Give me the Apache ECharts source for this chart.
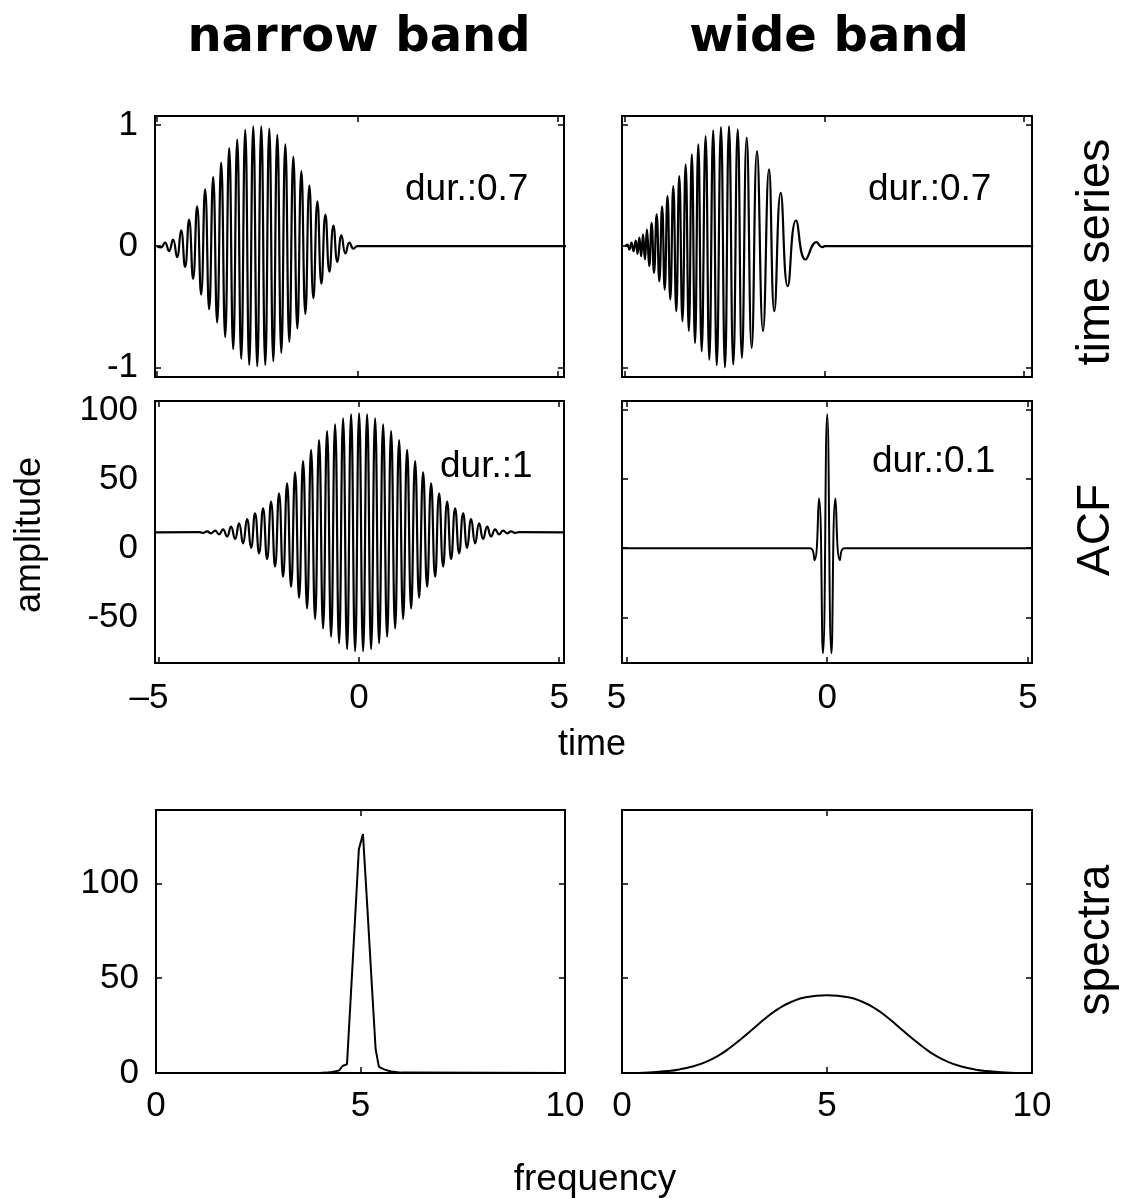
<!DOCTYPE html>
<html>
<head>
<meta charset="utf-8">
<script src="https://cdn.jsdelivr.net/npm/echarts@6/dist/echarts.min.js"></script>
<style>html,body{margin:0;padding:0;background:#fff}#c{width:1124px;height:1198px}</style>
</head>
<body>
<div id="c"></div>
<script>
// ---------------- texts ----------------
const columnTitles = ['narrow band', 'wide band'];
const rowLabels = ['time series', 'ACF', 'spectra'];
const durLabels = ['dur.:0.7', 'dur.:0.7', 'dur.:1', 'dur.:0.1'];
const yAxisTitle = 'amplitude';
const timeAxisTitle = 'time';
const freqAxisTitle = 'frequency';

// ---------------- tick values ----------------
const timeTicks = [0, 5, 10];
const unitTicks = [-1, 0, 1];
const lagTicks = [-5, 0, 5];
const acfTicks = [-50, 0, 50, 100];
const freqTicks = [0, 5, 10];
const specTicks = [0, 50, 100];

// ---------------- narrow band time series (extremes) ----------------
const nbTime = [0,0.1,0.2,0.3,0.4,0.5,0.6,0.7,0.8,0.9,1.0,1.1,1.2,1.3,1.4,1.5,1.6,1.7,1.8,1.9,2.0,2.1,2.2,2.3,2.4,2.5,2.6,2.7,2.8,2.9,3.0,3.1,3.2,3.3,3.4,3.5,3.6,3.7,3.8,3.9,4.0,4.1,4.2,4.3,4.4,4.5,4.6,4.7,4.8,4.9,5.0,10.23];
const nbSignal = [0,-0.01,0.03,-0.04,0.055,-0.09,0.13,-0.17,0.22,-0.27,0.33,-0.40,0.47,-0.52,0.57,-0.63,0.69,-0.75,0.81,-0.85,0.88,-0.93,0.96,-0.98,0.99,-0.99,0.99,-0.98,0.97,-0.95,0.92,-0.88,0.84,-0.79,0.74,-0.68,0.62,-0.56,0.50,-0.43,0.37,-0.31,0.26,-0.21,0.17,-0.13,0.09,-0.06,0.03,-0.02,0,0];

// ---------------- wide band time series (chirp extremes) ----------------
const wbTime = [0,0.058,0.108,0.163,0.213,0.27,0.315,0.36,0.405,0.452,0.50,0.55,0.607,0.667,0.727,0.794,0.86,0.93,0.995,1.065,1.135,1.21,1.285,1.36,1.44,1.52,1.6,1.675,1.755,1.837,1.922,2.02,2.113,2.21,2.30,2.405,2.506,2.607,2.714,2.825,2.93,3.05,3.175,3.308,3.459,3.609,3.742,3.902,4.078,4.286,4.524,4.8,4.937,5.01,10.23];
const wbSignal = [0,0.014,-0.027,0.03,-0.041,0.047,-0.063,0.07,-0.083,0.097,-0.11,0.138,-0.165,0.193,-0.22,0.262,-0.289,0.33,-0.358,0.413,-0.44,0.496,-0.537,0.579,-0.62,0.675,-0.70,0.758,-0.80,0.84,-0.868,0.91,-0.937,0.956,-0.983,0.983,-1.0,0.99,-0.978,0.964,-0.922,0.896,-0.84,0.785,-0.70,0.634,-0.537,0.44,-0.33,0.212,-0.11,0.033,-0.008,0,0];

// ---------------- narrow band ACF ----------------
const nbLag = [-5.12,-4.0,-3.9,-3.8,-3.7,-3.6,-3.5,-3.4,-3.3,-3.2,-3.1,-3.0,-2.9,-2.8,-2.7,-2.6,-2.5,-2.4,-2.3,-2.2,-2.1,-2.0,-1.9,-1.8,-1.7,-1.6,-1.5,-1.4,-1.3,-1.2,-1.1,-1.0,-0.9,-0.8,-0.7,-0.6,-0.5,-0.4,-0.3,-0.2,-0.1,0,0.1,0.2,0.3,0.4,0.5,0.6,0.7,0.8,0.9,1.0,1.1,1.2,1.3,1.4,1.5,1.6,1.7,1.8,1.9,2.0,2.1,2.2,2.3,2.4,2.5,2.6,2.7,2.8,2.9,3.0,3.1,3.2,3.3,3.4,3.5,3.6,3.7,3.8,3.9,4.0,5.12];
const nbAcf = [11.5,11.7,11.1,12.2,10.8,12.7,10.1,13.7,8.4,15.6,6.7,18.0,3.5,21.1,0.3,25.2,-3.7,28.9,-7.8,33.7,-13.3,39.7,-20.6,47.0,-27.8,54.9,-35.8,63.1,-43.5,71.1,-51.2,78.3,-58.0,84.8,-64.0,89.6,-68.8,94.0,-72.9,96.9,-74.4,97.6,-74.4,96.9,-72.9,94.0,-68.8,89.6,-64.0,84.8,-58.0,78.3,-51.2,71.1,-43.5,63.1,-35.8,54.9,-27.8,47.0,-20.6,39.7,-13.3,33.7,-7.8,28.9,-3.7,25.2,0.3,21.1,3.5,18.0,6.7,15.6,8.4,13.7,10.1,12.7,10.8,12.2,11.1,11.7,11.5];

// ---------------- wide band ACF ----------------
const wbLag = [-5.12,-0.42,-0.315,-0.205,-0.105,0,0.105,0.205,0.315,0.42,5.12];
const wbAcf = [0,0,-8.5,36,-76,97,-76,36,-8.5,0,0];

// ---------------- spectra ----------------
const nbFreq = [0,4.0,4.15,4.3,4.4,4.48,4.56,4.67,4.8,4.96,5.06,5.16,5.27,5.37,5.45,5.59,5.75,6.0,10];
const nbSpec = [0,0,0.2,0.5,0.9,1.4,3.7,4.6,55,118,126,90,49,12.5,3.2,1.8,0.8,0.2,0];
const wbFreq = [0,0.4,0.75,1.1,1.4,1.72,2.05,2.37,2.61,2.94,3.18,3.5,3.83,4.15,4.48,5.0,5.52,5.85,6.17,6.5,6.82,7.06,7.39,7.63,7.95,8.28,8.6,8.9,9.25,9.6,10];
const wbSpec = [0,0.05,0.4,1.0,1.9,3.4,5.9,9.4,12.9,18.6,23.0,28.9,34.1,37.7,40.0,41.0,40.0,37.7,34.1,28.9,23.0,18.6,12.9,9.4,5.9,3.4,1.9,1.0,0.4,0.05,0];

// ---------------- chart ----------------
const FONT = "'Liberation Sans', Arial, Helvetica, sans-serif";
const pairs = (xs, ys) => xs.map((x, i) => [x, ys[i]]);

const grids = [
  {left:155, top:116, width:409, height:261},
  {left:622, top:116, width:410, height:261},
  {left:155, top:401, width:409, height:262},
  {left:622, top:401, width:410, height:262},
  {left:156, top:810, width:409, height:263},
  {left:622, top:810, width:410, height:263}
].map(g => Object.assign({show:true, borderColor:'#000', borderWidth:2, backgroundColor:'transparent', containLabel:false, outerBoundsMode:'none'}, g));

const tickStyle = {color:'#000', width:1.5};
function axis(gi, pos, min, max, ticks, showTicks, labelOpt) {
  const a = {
    type:'value', gridIndex:gi, position:pos, min:min, max:max,
    axisLine:{show:false, onZero:false},
    splitLine:{show:false},
    axisTick:{show:showTicks, inside:true, length:6, lineStyle:tickStyle, customValues:ticks},
    axisLabel:{show:false, customValues:ticks}
  };
  if (labelOpt) {
    a.axisLabel = Object.assign({show:true, customValues:ticks, fontSize:35, fontFamily:FONT, color:'#000'}, labelOpt);
  }
  return a;
}

const xRanges = [[-0.05,10.15],[-0.075,10.2],[-5.1,5.12],[-5.11,5.1],[0,10],[0,10]];
const yRanges = [[-1.08,1.075],[-1.08,1.075],[-83,106.5],[-83,106.5],[0,138.7],[0,138.7]];
const xTicks = [timeTicks, timeTicks, lagTicks, lagTicks, freqTicks, freqTicks];
const yTicks = [unitTicks, unitTicks, acfTicks, acfTicks, specTicks, specTicks];

const richNeg = {l:{fontSize:35, fontFamily:FONT, color:'#000', padding:[0,20,0,0]}};
const xLabelOpts = [
  null, null,
  {margin:18, formatter: v => v === -5 ? '{l|\u20135}' : String(v), rich:richNeg},
  {margin:18, formatter: v => v === -5 ? '{l|5}' : String(v), rich:richNeg},
  {margin:16},
  {margin:16}
];
const yLabelOpts = [
  {margin:17}, null,
  {margin:17}, null,
  {margin:17}, null
];
const yTickShow = [true, true, false, true, true, true];

const xAxes = [], yAxes = [];
for (let i = 0; i < 6; i++) {
  xAxes.push(axis(i, 'bottom', xRanges[i][0], xRanges[i][1], xTicks[i], true, xLabelOpts[i]));
  xAxes.push(axis(i, 'top', xRanges[i][0], xRanges[i][1], xTicks[i], true, null));
  yAxes.push(axis(i, 'left', yRanges[i][0], yRanges[i][1], yTicks[i], yTickShow[i], yLabelOpts[i]));
  yAxes.push(axis(i, 'right', yRanges[i][0], yRanges[i][1], yTicks[i], yTickShow[i], null));
}

const seriesData = [
  {xs:nbTime, ys:nbSignal, smooth:true, w:2.2},
  {xs:wbTime, ys:wbSignal, smooth:true, w:2.2},
  {xs:nbLag, ys:nbAcf, smooth:true, w:2.2},
  {xs:wbLag, ys:wbAcf, smooth:true, w:2.0},
  {xs:nbFreq, ys:nbSpec, smooth:false, w:2.0},
  {xs:wbFreq, ys:wbSpec, smooth:true, w:2.0}
];
const series = seriesData.map((s, i) => ({
  type:'line', xAxisIndex:2*i, yAxisIndex:2*i,
  data:pairs(s.xs, s.ys), smooth:s.smooth, symbol:'none', showSymbol:false,
  lineStyle:{color:'#000', width:s.w}, silent:true, clip:true
}));

function txt(x, y, text, font, align, rot) {
  const e = {type:'text', x:x, y:y, silent:true,
    style:{text:text, font:font, fill:'#000', textAlign:align || 'center', textVerticalAlign:'middle'}};
  if (rot) e.rotation = rot;
  return e;
}
const TITLE_FONT = "bold 48px 'DejaVu Sans', Verdana, sans-serif";
const graphics = [
  txt(359, 39, columnTitles[0], TITLE_FONT),
  txt(829, 39, columnTitles[1], TITLE_FONT),
  txt(1096, 252, rowLabels[0], "47px " + FONT, 'center', Math.PI/2),
  txt(1096, 530, rowLabels[1], "46px " + FONT, 'center', Math.PI/2),
  txt(1096, 940, rowLabels[2], "46px " + FONT, 'center', Math.PI/2),
  txt(405, 190, durLabels[0], "37px " + FONT, 'left'),
  txt(868, 190, durLabels[1], "37px " + FONT, 'left'),
  txt(440, 467, durLabels[2], "37px " + FONT, 'left'),
  txt(872, 462, durLabels[3], "37px " + FONT, 'left'),
  txt(30, 535, yAxisTitle, "36px " + FONT, 'center', Math.PI/2),
  txt(592, 745, timeAxisTitle, "36px " + FONT),
  txt(595, 1180, freqAxisTitle, "37px " + FONT)
];

const chart = echarts.init(document.getElementById('c'), null, {renderer:'canvas'});
chart.setOption({
  animation:false,
  backgroundColor:'#fff',
  textStyle:{fontFamily:FONT, color:'#000'},
  grid:grids,
  xAxis:xAxes,
  yAxis:yAxes,
  series:series,
  graphic:graphics
});
</script>
</body>
</html>
